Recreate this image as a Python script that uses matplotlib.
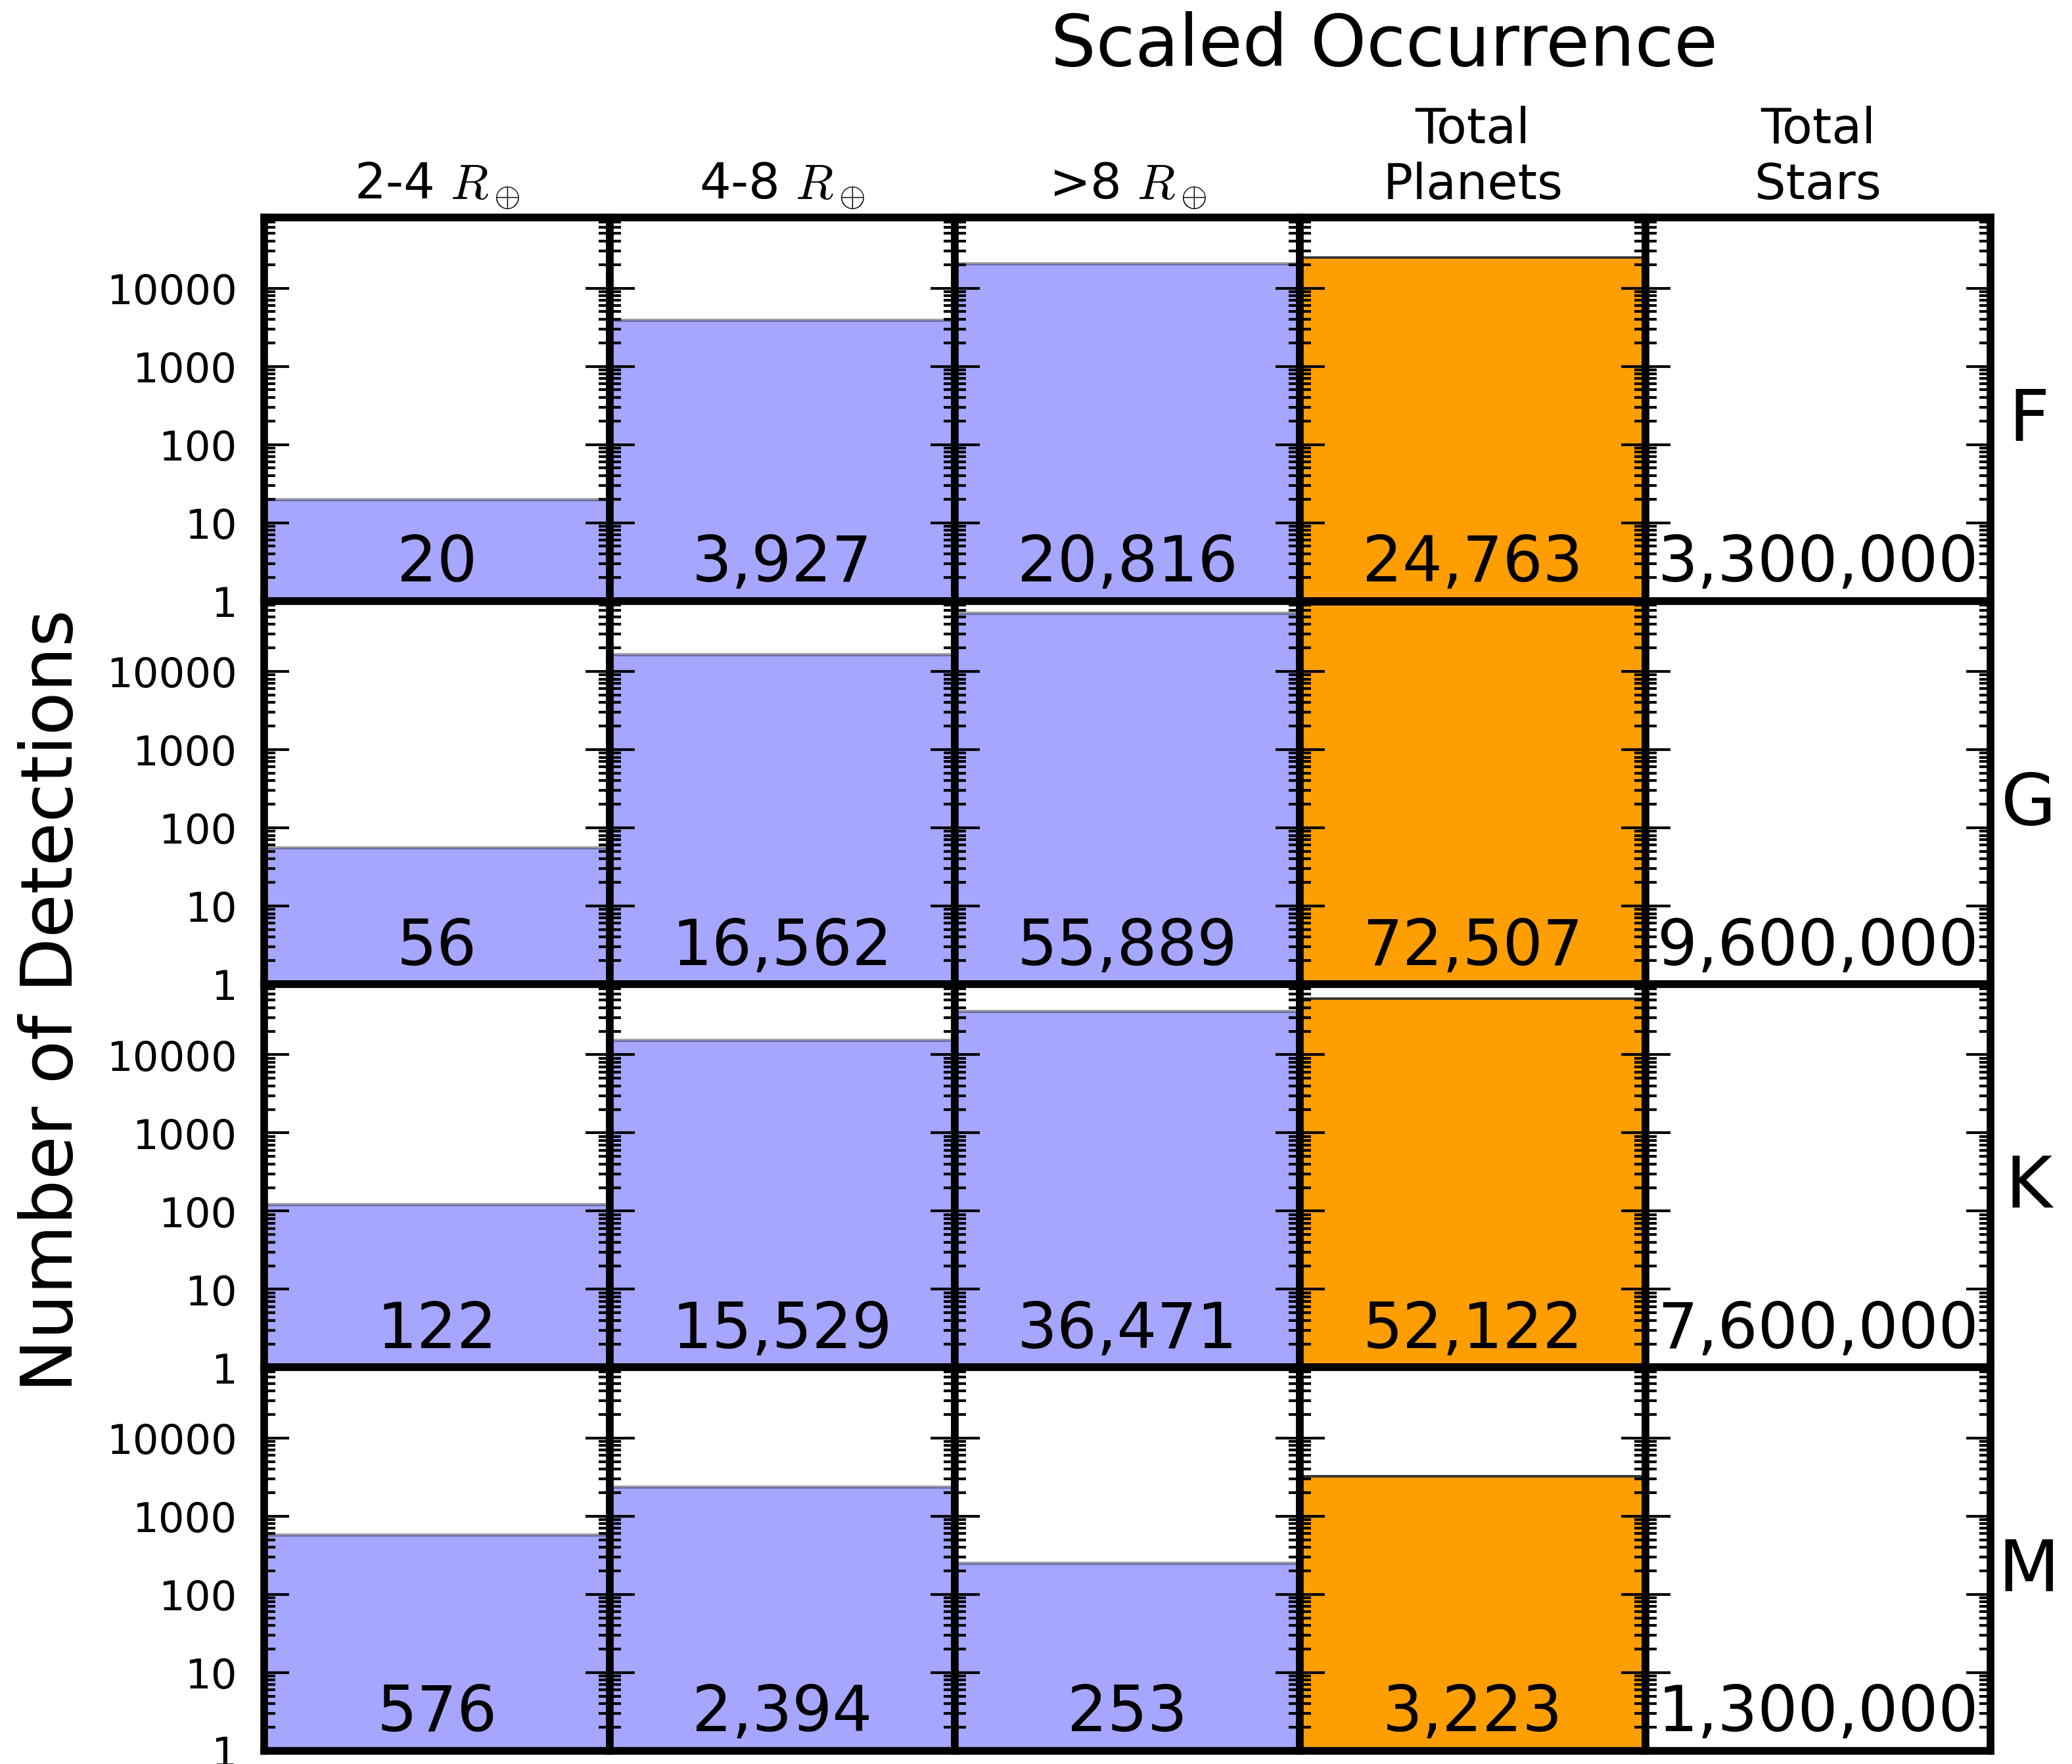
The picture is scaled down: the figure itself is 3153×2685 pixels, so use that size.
"""Grid of scaled planet-occurrence counts by stellar type and planet size."""

import matplotlib.pyplot as plt
from matplotlib.ticker import FixedLocator, LogLocator, NullFormatter

plt.rcParams["mathtext.fontset"] = "cm"

# Columns: planet size bins, total planets, total stars
COLUMNS = [r"2-4 $R_\oplus$", r"4-8 $R_\oplus$", r">8 $R_\oplus$",
           "Total\nPlanets", "Total\nStars"]
SPECTRAL_TYPES = ["F", "G", "K", "M"]

SMALL = [20, 56, 122, 576]          # 2-4 R_earth
MEDIUM = [3927, 16562, 15529, 2394]  # 4-8 R_earth
LARGE = [20816, 55889, 36471, 253]   # >8 R_earth
TOTAL_PLANETS = [24763, 72507, 52122, 3223]
TOTAL_STARS = [3300000, 9600000, 7600000, 1300000]

Y_TICKS = [1, 10, 100, 1000, 10000]
Y_TICK_LABELS = ["1", "10", "100", "1000", "10000"]
Y_MAX = 8e4

BLUE = "blue"
ORANGE = "#ff9e00"

fig, axes = plt.subplots(4, 5, figsize=(10.513, 8.953))
fig.subplots_adjust(left=0.1275, right=0.9605, top=0.8764, bottom=0.0075,
                    wspace=0, hspace=0)

for i, stype in enumerate(SPECTRAL_TYPES):
    row_vals = [SMALL[i], MEDIUM[i], LARGE[i], TOTAL_PLANETS[i], TOTAL_STARS[i]]
    for j, val in enumerate(row_vals):
        ax = axes[i, j]
        ax.set_yscale("log")
        if j < 3:
            ax.bar(0, val, width=1, align="edge", color=BLUE,
                   edgecolor="black", linewidth=1.2, alpha=0.35)
        elif j == 3:
            ax.bar(0, val, width=1, align="edge", color=ORANGE,
                   edgecolor="#333333", linewidth=0.9)
        ax.set_xlim(0, 1)
        ax.set_ylim(1, Y_MAX)
        ax.set_xticks([])

        ax.yaxis.set_major_locator(FixedLocator(Y_TICKS))
        ax.yaxis.set_minor_locator(
            LogLocator(base=10, subs=range(2, 10), numticks=100))
        ax.yaxis.set_minor_formatter(NullFormatter())
        ax.tick_params(axis="y", which="both", direction="in",
                       left=True, right=True)
        ax.tick_params(axis="y", which="major", length=9, width=1.0, pad=10,
                       labelsize=15)
        ax.tick_params(axis="y", which="minor", length=4, width=1.0)
        if j == 0:
            ax.set_yticklabels(Y_TICK_LABELS)
        else:
            ax.tick_params(axis="y", labelleft=False)

        for spine in ax.spines.values():
            spine.set_linewidth(2.8)

        ax.text(0.5, 0.052, f"{val:,}", transform=ax.transAxes,
                ha="center", va="baseline", fontsize=23, zorder=5)

        if i == 0:
            ax.set_title(COLUMNS[j], fontsize=18, pad=7)

    axes[i, -1].text(1.11, 0.47, stype, transform=axes[i, -1].transAxes,
                     ha="center", va="center", fontsize=26)

fig.text(0.668, 0.974, "Scaled Occurrence", ha="center", va="center",
         fontsize=26)
fig.text(0.0254, 0.433, "Number of Detections", rotation=90,
         ha="center", va="center", fontsize=26)

fig.savefig("out.png", dpi=300)
